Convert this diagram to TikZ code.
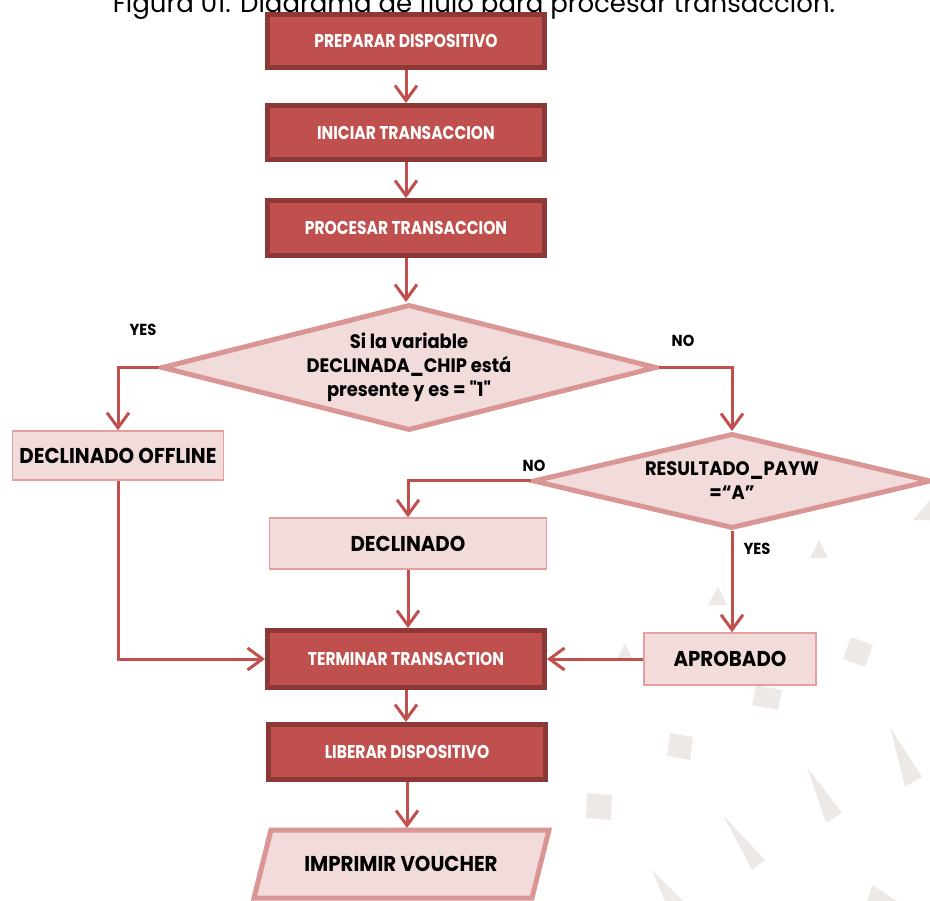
\documentclass[tikz,border=0pt]{standalone}
\usepackage{fontspec}
\setmainfont{Poppins}
\newfontfamily\nar[FakeStretch=0.84]{Poppins}
\newfontfamily\wid[FakeStretch=0.92]{Poppins}
\usetikzlibrary{arrows.meta,shapes.geometric}
\definecolor{dred}{HTML}{C0504D}
\definecolor{dborder}{HTML}{8C3836}
\definecolor{lfill}{HTML}{F2DCDB}
\definecolor{lborder}{HTML}{E3A09E}
\definecolor{dmborder}{HTML}{DA9694}
\definecolor{bgshape}{HTML}{EEE9E7}
\tikzset{
  darkbox/.style={draw=dborder, fill=dred, line width=5pt, minimum width=277pt, inner sep=0pt,
    text=white, font=\nar\bfseries\fontsize{18.5}{20}\selectfont},
  lightbox/.style={draw=lborder, fill=lfill, line width=1.5pt, inner sep=0pt,
    text=black, font=\wid\bfseries\fontsize{21.5}{24}\selectfont},
  decision/.style={diamond, draw=dmborder, fill=lfill, line width=5pt, inner sep=0pt, align=center,
    text=black, font=\wid\bfseries\fontsize{19.5}{24}\selectfont},
  flow/.style={draw=dred, line width=3pt, -{Straight Barb[length=15pt,width=22pt]}},
  lbl/.style={text=black, font=\wid\bfseries\fontsize{16}{18}\selectfont, inner sep=0pt},
  deco/.style={fill=bgshape, draw=none}
}
\begin{document}
\begin{tikzpicture}[x=1pt,y=-1pt]
\useasboundingbox (0,0) rectangle (930,901);
\clip (0,0) rectangle (930,901);
% faint background decoration
\fill[deco] (810,558) -- (828,558) -- (819,540) -- cycle;
\fill[deco] (708,605) -- (727,605) -- (718,587) -- cycle;
\fill[deco] (617,660) -- (633,660) -- (625,643) -- cycle;
\fill[deco] (913,520) -- (930,520) -- (930,500) -- cycle;
\fill[deco] (851,637) -- (873,645) -- (865,667) -- (843,659) -- cycle;
\fill[deco] (756,685) -- (782,690) -- (778,710) -- (752,705) -- cycle;
\fill[deco] (670,733) -- (693,737) -- (690,760) -- (667,756) -- cycle;
\fill[deco] (587,793) -- (612,795) -- (611,820) -- (586,818) -- cycle;
\fill[deco] (890,727) -- (922,777) -- (905,787) -- cycle;
\fill[deco] (807,767) -- (842,813) -- (826,823) -- cycle;
\fill[deco] (723,815) -- (765,860) -- (752,870) -- cycle;
\fill[deco] (652,870) -- (683,901) -- (665,901) -- cycle;
\fill[deco] (867,901) -- (897,901) -- (872,885) -- cycle;
\fill[deco] (448,893) -- (464,893) -- (452,877) -- cycle;
% caption (cut off at the top, as in the source)
\node[anchor=base, inner sep=0pt, font=\fontsize{26}{30}\selectfont] (cap) at (474,13) {Figura 01. Diagrama de flujo para procesar transacción.};
% nodes
\node[darkbox, minimum height=53pt] (prep) at (406,41) {PREPARAR DISPOSITIVO};
\node[darkbox, minimum height=54pt] (ini) at (406,132.5) {INICIAR TRANSACCION};
\node[darkbox, minimum height=55pt] (proc) at (406,228) {PROCESAR TRANSACCION};
\node[decision, shape aspect=3.8, minimum width=495pt, minimum height=126pt] (d1) at (409,367.5)
  {Si la variable\\DECLINADA\_CHIP está\\presente y es = "1"};
\node[lightbox, minimum width=211pt, minimum height=49pt] (doff) at (118,455.5) {DECLINADO OFFLINE};
\node[decision, shape aspect=4.1, minimum width=398pt, minimum height=95pt] (d2) at (732,481)
  {RESULTADO\_PAYW\\=“A”};
\node[lightbox, minimum width=277pt, minimum height=51pt] (dec) at (408,543.5) {DECLINADO};
\node[lightbox, minimum width=172pt, minimum height=52pt] (apr) at (730,659) {APROBADO};
\node[darkbox, minimum height=57pt] (term) at (406,659) {TERMINAR TRANSACTION};
\node[darkbox, minimum height=55pt] (lib) at (407,752) {LIBERAR DISPOSITIVO};
\draw[draw=dmborder, fill=lfill, line width=5pt] (271,830) -- (549,830) -- (532,898) -- (254,898) -- cycle;
\node[inner sep=0pt, text=black, font=\wid\bfseries\fontsize{21.5}{24}\selectfont] (imp) at (401,864) {IMPRIMIR VOUCHER};
\coordinate (imptop) at (407,828);
% labels
\node[lbl] (yes1) at (143,330) {YES};
\node[lbl] (no1) at (683,341) {NO};
\node[lbl] (no2) at (534,466) {NO};
\node[lbl] (yes2) at (757,549) {YES};
% connectors
\draw[flow] (prep.south) -- (ini.north);
\draw[flow] (ini.south) -- (proc.north);
\draw[flow] (proc.south) -- (proc.south |- d1.north);
\draw[flow] (d1.west) -| (doff.north);
\draw[flow] (d1.east) -| (d2.north);
\draw[flow] (d2.west) -| (dec.north);
\draw[flow] (d2.south) -- (d2.south |- apr.north);
\draw[flow] (dec.south) -- (dec.south |- term.north);
\draw[flow] (apr.west) -- (term.east);
\draw[flow] (doff.south) |- (term.west);
\draw[flow] (term.south) -- (term.south |- lib.north);
\draw[flow] (lib.south) -- (imptop);
\end{tikzpicture}
\end{document}
